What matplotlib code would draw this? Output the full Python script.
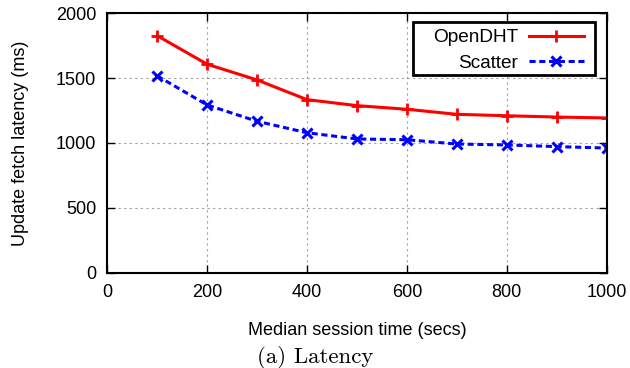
import matplotlib
matplotlib.use("Agg")
import matplotlib.pyplot as plt
from matplotlib.patches import Rectangle

x = [100, 200, 300, 400, 500, 600, 700, 800, 900, 1000]
opendht = [1827, 1607, 1486, 1334, 1288, 1260, 1221, 1210, 1200, 1193]
scatter = [1517, 1293, 1167, 1079, 1031, 1025, 992, 985, 972, 961]
xticks = [0, 200, 400, 600, 800, 1000]
yticks = [0, 500, 1000, 1500, 2000]

plt.rcParams['font.family'] = ['Liberation Sans', 'DejaVu Sans']

W, H = 630, 368
fig = plt.figure(figsize=(6.3, 3.68), dpi=100)
ax = fig.add_axes([0.1703, 0.259, 0.963 - 0.1703, 0.9639 - 0.259])

ax.plot(x, opendht, color='#ff0000', lw=2.2, marker='+', ms=9, mew=2, label='OpenDHT')
ax.plot(x, scatter, color='#0000ff', lw=2.2, ls=(0, (2.0, 1.2)), marker='x', ms=6.5, mew=2.2, label='Scatter')

ax.set_xlim(0, 1000)
ax.set_ylim(0, 2000)
ax.set_xticks(xticks)
ax.set_yticks(yticks)
ax.tick_params(direction='in', top=True, right=True, labelsize=13, length=6, width=1, pad=8)
ax.grid(True, color='#a0a0a0', ls=(0, (2, 3)), lw=0.8)
for s in ax.spines.values():
    s.set_linewidth(1.5)

ax.set_xlabel('Median session time (secs)', fontsize=13, labelpad=15)
ax.set_ylabel('Update fetch latency (ms)', fontsize=13, labelpad=19)

# legend frame (gnuplot-style key box)
frame = Rectangle((413 / W, 1 - 75 / H), 182 / W, 53.5 / H, transform=fig.transFigure,
                  facecolor='white', edgecolor='black', lw=2, zorder=4, clip_on=False)
ax.add_patch(frame)

leg = ax.legend(loc='upper right', markerfirst=False, fontsize=13.7, frameon=False,
                handlelength=2.9, handletextpad=0.55, labelspacing=0.42, borderpad=0,
                borderaxespad=0, bbox_to_anchor=(584 / W, 1 - 29 / H),
                bbox_transform=fig.transFigure)
leg.set_zorder(5)

fig.text(0.5, 0.028, '(a) Latency', ha='center', va='center', fontsize=16.5,
         family=['cmr10', 'DejaVu Serif'])

fig.savefig('out.png', dpi=100)
